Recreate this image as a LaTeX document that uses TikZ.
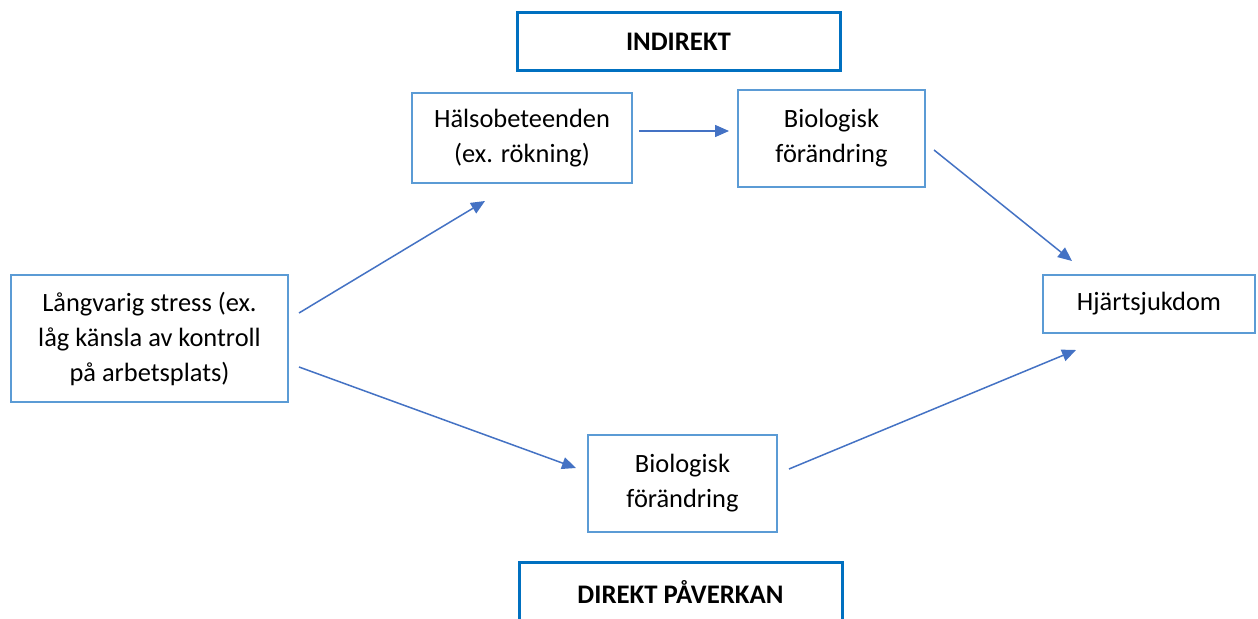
\documentclass[tikz,border=0pt]{standalone}
\usepackage{fontspec}
\setmainfont{Carlito}
\usepackage{xcolor}
\usetikzlibrary{arrows.meta}
\definecolor{boxblue}{HTML}{5B9BD5}
\definecolor{headblue}{HTML}{0070C0}
\definecolor{arrowblue}{HTML}{4472C4}
\begin{document}
\begin{tikzpicture}[
    x=0.5pt, y=-0.5pt,
    box/.style={draw=boxblue, line width=1pt, align=center, inner sep=0pt,
      font=\fontsize{13.2}{17.5}\selectfont},
    head/.style={draw=headblue, line width=1.5pt, align=center, inner sep=0pt,
      minimum width=161.5pt, minimum height=29pt, font=\fontsize{13.4}{15}\selectfont\bfseries},
    arr/.style={draw=arrowblue, line width=0.75pt, -{Triangle[length=7pt,width=6pt]}},
  ]
  \useasboundingbox (0,0) rectangle (1258,619);
  \clip (0,0) rectangle (1258,619);
  \fill[white] (0,0) rectangle (1258,619);
  % les deux titres
  \node[head] (indirekt) at (678.5,42) {INDIREKT};
  \node[head] (direkt) at (680.5,592) {DIREKT PÅVERKAN};
  % les boites
  \node[box, minimum width=138.5pt, minimum height=63.5pt] (stress) at (149.5,338.5)
    {Långvarig stress (ex.\\låg känsla av kontroll\\på arbetsplats)};
  \node[box, minimum width=110pt, minimum height=45pt] (halsa) at (522,138)
    {Hälsobeteenden\\(ex. rökning)};
  \node[box, minimum width=93.5pt, minimum height=48.5pt] (bioA) at (831.5,138.5)
    {Biologisk\\förändring};
  \node[box, minimum width=94.5pt, minimum height=48.5pt] (bioB) at (682.5,483.5)
    {Biologisk\\förändring};
  \node[box, minimum width=106pt, minimum height=29pt] (hjarta) at (1149,304)
    {Hjärtsjukdom};
  % les fleches
  \draw[arr] ([shift={(10,-25.5)}]stress.east) -- ([shift={(-37,17)}]halsa.south);
  \draw[arr] ([shift={(6,-7)}]halsa.east) -- ([shift={(-8,-7.5)}]bioA.west);
  \draw[arr] ([shift={(8,11.5)}]bioA.east) -- ([shift={(-77,-13)}]hjarta.north);
  \draw[arr] ([shift={(10,28.5)}]stress.east) -- ([shift={(-11,-15.5)}]bioB.west);
  \draw[arr] ([shift={(11,-14.5)}]bioB.east) -- ([shift={(-73,16)}]hjarta.south);
\end{tikzpicture}
\end{document}
